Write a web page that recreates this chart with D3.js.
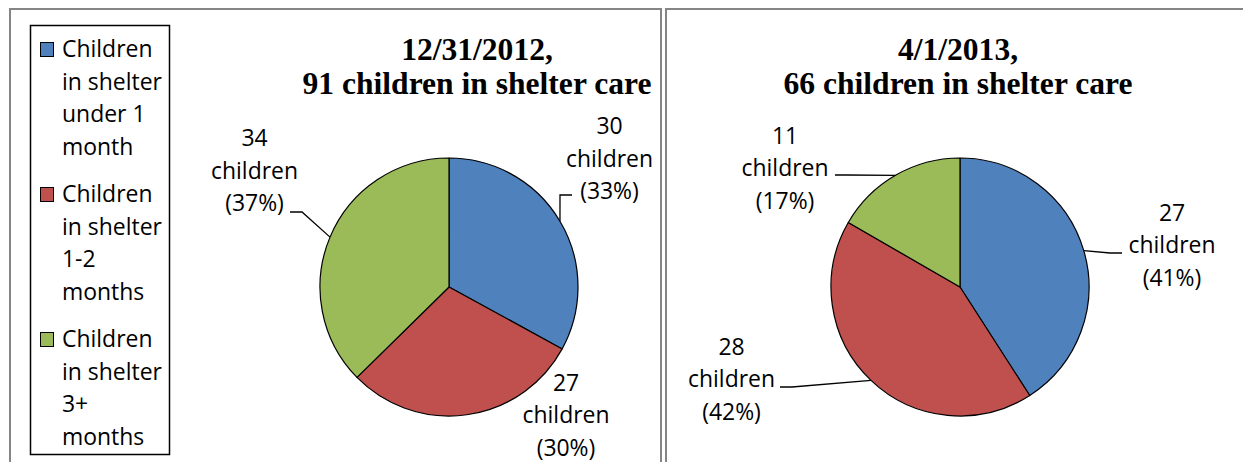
<!DOCTYPE html>
<html>
<head>
<meta charset="utf-8">
<script src="https://cdn.jsdelivr.net/npm/d3@7"></script>
<style>
  html, body { margin: 0; padding: 0; background: #fff; }
  svg { display: block; }
</style>
</head>
<body>
<svg id="chart" width="1243" height="462"></svg>
<script>
// Shelter-care duration breakdown for two snapshot dates
const categories = [
  "Children in shelter under 1 month",
  "Children in shelter 1-2 months",
  "Children in shelter 3+ months"
];
const legendLines = [
  ["Children", "in shelter", "under 1", "month"],
  ["Children", "in shelter", "1-2", "months"],
  ["Children", "in shelter", "3+", "months"]
];
const dates = ["12/31/2012,", "4/1/2013,"];
const totals = [91, 66];
const counts2012 = [30, 27, 34];
const counts2013 = [27, 28, 11];
const percents2012 = [33, 30, 37];
const percents2013 = [41, 42, 17];
const colors = ["#4F81BD", "#C0504D", "#9BBB59"];

const W = 1243, H = 462;
const svg = d3.select("#chart");
const labelFont = "'Open Sans', 'Noto Sans', sans-serif";
const titleFont = "'Liberation Serif', 'Times New Roman', serif";

// size the body font so that "children" spans about 87px
function fitSize(family, weight, sample, target) {
  const t = svg.append("text").attr("font-family", family).attr("font-weight", weight)
    .attr("font-size", 100).text(sample);
  const w = t.node().getComputedTextLength();
  t.remove();
  return 100 * target / w;
}
const labelSize = fitSize(labelFont, "normal", "children", 87);
const titleSize = fitSize(titleFont, "bold", "91 children in shelter care", 349);
const lineH = 32.5;

// panel frames
const frame = svg.append("g").attr("fill", "none").attr("stroke", "#858585").attr("stroke-width", 2);
frame.append("rect").attr("x", 10).attr("y", 9).attr("width", 651).attr("height", 470);
frame.append("rect").attr("x", 666).attr("y", 9).attr("width", 600).attr("height", 470);

// legend
const legend = svg.append("g");
legend.append("rect").attr("x", 30.5).attr("y", 25.5).attr("width", 139).attr("height", 429)
  .attr("fill", "#fff").attr("stroke", "#000").attr("stroke-width", 1.5);
const itemY = d3.scaleLinear().domain([0, 1]).range([57, 202]);
legendLines.forEach((lines, i) => {
  const y0 = itemY(i);
  legend.append("rect").attr("x", 40.5).attr("y", y0 - 14.5).attr("width", 13).attr("height", 14)
    .attr("fill", colors[i]).attr("stroke", "#000").attr("stroke-width", 1);
  const t = legend.append("text").attr("font-family", labelFont).attr("font-size", labelSize)
    .attr("fill", "#000");
  lines.forEach((ln, j) => {
    t.append("tspan").attr("x", 62).attr("y", y0 + j * lineH).text(ln);
  });
});

// pies
const radius = 129;
const pie = d3.pie().sort(null).startAngle(0).endAngle(2 * Math.PI);
const arc = d3.arc().innerRadius(0).outerRadius(radius);
const edgeArc = d3.arc().innerRadius(radius).outerRadius(radius);

const panels = [
  {
    cx: 449, cy: 287, titleX: 477,
    counts: counts2012, percents: percents2012, total: totals[0], date: dates[0],
    // label block centre x and middle-line baseline, relative to pie centre
    labels: [[160.5, -120.5], [117, 136], [-194.5, -108.5]],
    // where each leader line meets its label (null = no leader)
    leaders: [[123, -92], null, [-159, -75]]
  },
  {
    cx: 960, cy: 287, titleX: 958,
    counts: counts2013, percents: percents2013, total: totals[1], date: dates[1],
    labels: [[212, -34], [-228.5, 100], [-175, -111]],
    leaders: [[162, -34], [-180, 100], [-125, -112]]
  }
];

panels.forEach(p => {
  const g = svg.append("g");
  // title
  const title = g.append("text").attr("font-family", titleFont).attr("font-weight", "bold")
    .attr("font-size", titleSize).attr("text-anchor", "middle").attr("fill", "#000");
  title.append("tspan").attr("x", p.titleX).attr("y", 60).text(p.date);
  title.append("tspan").attr("x", p.titleX).attr("y", 94).text(`${p.total} children in shelter care`);

  const arcs = pie(p.counts);
  const pg = g.append("g").attr("transform", `translate(${p.cx},${p.cy})`);
  pg.selectAll("path.slice").data(arcs).join("path")
    .attr("class", "slice")
    .attr("d", arc)
    .attr("fill", (d, i) => colors[i])
    .attr("stroke", "#000").attr("stroke-width", 1.2).attr("stroke-linejoin", "round");

  // leader lines: short horizontal stub at the label, then on to the slice edge
  arcs.forEach((d, i) => {
    const end = p.leaders[i];
    if (!end) return;
    const edge = edgeArc.centroid(d);
    const stub = end[0] > 0 ? -12 : 12;
    pg.append("path")
      .attr("d", d3.line()([end, [end[0] + stub, end[1]], edge]))
      .attr("fill", "none").attr("stroke", "#000").attr("stroke-width", 1.3);
  });

  // data labels
  arcs.forEach((d, i) => {
    const [lx, ly] = p.labels[i];
    const lines = [String(p.counts[i]), "children", `(${p.percents[i]}%)`];
    const t = pg.append("text").attr("font-family", labelFont).attr("font-size", labelSize)
      .attr("text-anchor", "middle").attr("fill", "#000");
    lines.forEach((ln, j) => {
      t.append("tspan").attr("x", lx).attr("y", ly + (j - 1) * lineH).text(ln);
    });
  });
});
</script>
</body>
</html>
